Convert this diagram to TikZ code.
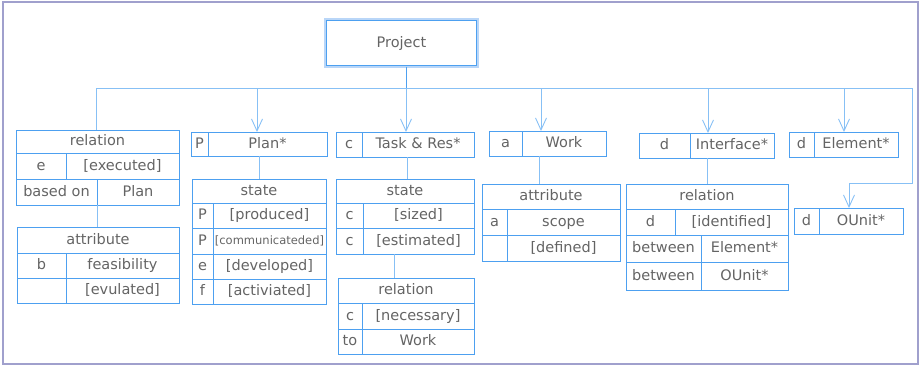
\documentclass[tikz,border=0pt]{standalone}
\usepackage{fontspec}
\setmainfont{DejaVu Sans}
\usetikzlibrary{arrows.meta}

\definecolor{boxblue}{RGB}{77,160,240}
\definecolor{linkblue}{RGB}{135,192,245}
\definecolor{paleblue}{RGB}{185,214,248}
\definecolor{framegray}{RGB}{160,160,205}
\definecolor{txtgray}{RGB}{100,100,100}

\tikzset{
  cellbox/.style={draw=boxblue, line width=0.9pt, inner sep=0pt, outer sep=0pt,
    text=txtgray, font=\fontsize{14.5}{17}\selectfont, anchor=center,
    text height=10.5pt, text depth=2.5pt},
  smalltext/.style={font=\fontsize{11.5}{13}\selectfont, text height=8.5pt, text depth=2pt},
  projbox/.style={cellbox, draw=paleblue, line width=3pt},
  link/.style={draw=linkblue, line width=0.9pt},
  linkarrow/.style={link, -{Straight Barb[length=12pt,width=11pt]}},
}

% one table cell: name, x1, y1, x2, y2, text
\newcommand\cell[7][]{\node[cellbox, #1, minimum width={#5-#3}, minimum height={#6-#4}]
  (#2) at ({(#3+#5)/2},{(#4+#6)/2}) {#7};}

\begin{document}
\begin{tikzpicture}[x=1pt, y=-1pt]
\useasboundingbox (0,0) rectangle (921,367);
\draw[framegray, line width=1.5pt] (3,2) rectangle (918,364);

% root with its two-tone border
\node[projbox, minimum width=152, minimum height=47] (proj) at (401.5,43) {Project};
\draw[boxblue, line width=1pt] ([shift={(1,1)}]proj.north west) rectangle ([shift={(-1,-1)}]proj.south east);

% relation / attribute (left column)
\cell{rl0}{16}{130}{179}{153}{relation}
\cell{rl1a}{16}{153}{66}{179}{e}
\cell{rl1b}{66}{153}{179}{179}{[executed]}
\cell{rl2a}{16}{179}{97}{205}{based on}
\cell{rl2b}{97}{179}{179}{205}{Plan}

\cell{al0}{17}{227}{179}{253}{attribute}
\cell{al1a}{17}{253}{66}{278}{b}
\cell{al1b}{66}{253}{179}{278}{feasibility}
\cell{al2a}{17}{278}{66}{303}{}
\cell{al2b}{66}{278}{179}{303}{[evulated]}

% Plan
\cell{ph1}{191}{132}{208}{156}{P}
\cell{ph2}{208}{132}{327}{156}{Plan*}

\cell{ps0}{192}{179}{326}{203}{state}
\cell{ps1a}{192}{203}{213}{228}{P}
\cell{ps1b}{213}{203}{326}{228}{[produced]}
\cell{ps2a}{192}{228}{213}{254}{P}
\cell[smalltext]{ps2b}{213}{228}{326}{254}{[communicateded]}
\cell{ps3a}{192}{254}{213}{279}{e}
\cell{ps3b}{213}{254}{326}{279}{[developed]}
\cell{ps4a}{192}{279}{213}{304}{f}
\cell{ps4b}{213}{279}{326}{304}{[activiated]}

% Task & Res
\cell{th1}{336}{132}{362}{157}{c}
\cell{th2}{362}{132}{474}{157}{Task \& Res*}

\cell{ts0}{336}{179}{474}{203}{state}
\cell{ts1a}{336}{203}{363}{228}{c}
\cell{ts1b}{363}{203}{474}{228}{[sized]}
\cell{ts2a}{336}{228}{363}{254}{c}
\cell{ts2b}{363}{228}{474}{254}{[estimated]}

\cell{tr0}{338}{278}{474}{303}{relation}
\cell{tr1a}{338}{303}{362}{329}{c}
\cell{tr1b}{362}{303}{474}{329}{[necessary]}
\cell{tr2a}{338}{329}{362}{354}{to}
\cell{tr2b}{362}{329}{474}{354}{Work}

% Work
\cell{wh1}{489}{131}{522}{156}{a}
\cell{wh2}{522}{131}{606}{156}{Work}

\cell{wa0}{482}{184}{620}{209}{attribute}
\cell{wa1a}{482}{209}{507}{235}{a}
\cell{wa1b}{507}{209}{620}{235}{scope}
\cell{wa2a}{482}{235}{507}{261}{}
\cell{wa2b}{507}{235}{620}{261}{[defined]}

% Interface
\cell{ih1}{639}{133}{690}{158}{d}
\cell{ih2}{690}{133}{774}{158}{Interface*}

\cell{ir0}{626}{184}{788}{209}{relation}
\cell{ir1a}{626}{209}{675}{235}{d}
\cell{ir1b}{675}{209}{788}{235}{[identified]}
\cell{ir2a}{626}{235}{701}{262}{between}
\cell{ir2b}{701}{235}{788}{262}{Element*}
\cell{ir3a}{626}{262}{701}{290}{between}
\cell{ir3b}{701}{262}{788}{290}{OUnit*}

% Element, OUnit
\cell{eh1}{789}{132}{814}{157}{d}
\cell{eh2}{814}{132}{898}{157}{Element*}

\cell{oh1}{794}{208}{819}{234}{d}
\cell{oh2}{819}{208}{903}{234}{OUnit*}

% bus from the root
\coordinate (b0) at (96,88);
\coordinate (b1) at (257,88);
\coordinate (b2) at (406,88);
\coordinate (b3) at (541,88);
\coordinate (b4) at (708,88);
\coordinate (b5) at (844,88);
\coordinate (bR) at (912,88);
\coordinate (bC) at (912,183);
\coordinate (bD) at (849,183);

\draw[link] (b0) -- (bR) -- (bC) -- (bD);
\draw[draw=boxblue, line width=0.9pt] (proj.south -| b2) -- (b2);
\draw[link] (b0) -- (b0 |- rl0.north);
\draw[linkarrow] (b1) -- (b1 |- ph2.north);
\draw[linkarrow] (b2) -- (b2 |- th2.north);
\draw[linkarrow] (b3) -- (b3 |- wh2.north);
\draw[linkarrow] (b4) -- (b4 |- ih2.north);
\draw[linkarrow] (b5) -- (b5 |- eh2.north);
\draw[linkarrow] (bD) -- (bD |- oh2.north);

% links inside the columns
\draw[link] (rl2a.south east) -- (rl2a.south east |- al0.north);
\draw[link] (ps0.north |- ph2.south) -- (ps0.north);
\draw[link] ([xshift=2pt]ts0.north |- th2.south) -- ([xshift=2pt]ts0.north);
\draw[link] ([xshift=-12pt]tr0.north |- ts2b.south) -- ([xshift=-12pt]tr0.north);
\draw[link] ([xshift=-12pt]wa0.north |- wh2.south) -- ([xshift=-12pt]wa0.north);
\draw[link] (ir0.north |- ih2.south) -- (ir0.north);
\end{tikzpicture}
\end{document}
